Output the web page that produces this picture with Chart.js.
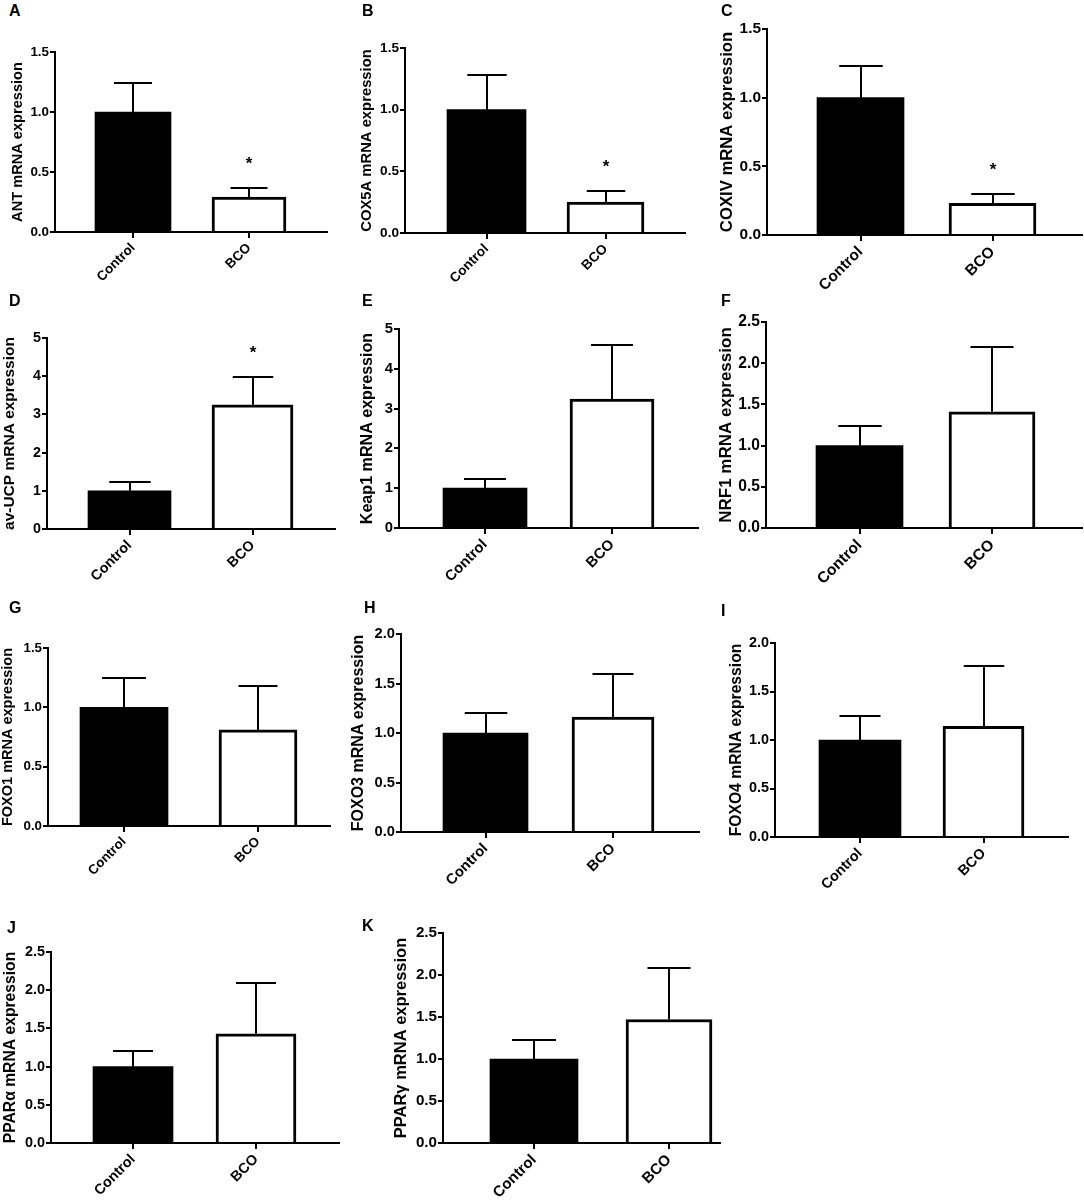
<!DOCTYPE html>
<html><head><meta charset="utf-8">
<script src="https://cdn.jsdelivr.net/npm/chart.js@4.4.1/dist/chart.umd.min.js"></script>
<style>
html,body{margin:0;padding:0;background:#fff;}
body{width:1084px;height:1201px;position:relative;overflow:hidden;}
canvas{position:absolute;}
.lbl{position:absolute;font-family:"Liberation Sans",Arial,sans-serif;font-weight:bold;font-size:16px;line-height:16px;color:#000;}
</style></head><body>
<script>
// ---- data ----
const groups = ['Control', 'BCO'];
const panelLetters = ['A','B','C','D','E','F','G','H','I','J','K'];
const genes = ['ANT','COX5A','COXIV','av-UCP','Keap1','NRF1','FOXO1','FOXO3','FOXO4','PPARα','PPARγ'];
const controlMean = [1.0, 1.0, 1.0, 1.0, 1.0, 1.0, 1.0, 1.0, 1.0, 1.0, 1.0];
const controlSEM  = [0.24, 0.28, 0.23, 0.23, 0.24, 0.24, 0.25, 0.20, 0.25, 0.21, 0.23];
const bcoMean     = [0.29, 0.25, 0.23, 3.25, 3.24, 1.41, 0.81, 1.16, 1.14, 1.43, 1.47];
const bcoSEM      = [0.08, 0.09, 0.07, 0.73, 1.36, 0.79, 0.37, 0.44, 0.62, 0.67, 0.61];
const significant = [true, true, true, true, false, false, false, false, false, false, false];
const yMax  = [1.5, 1.5, 1.5, 5, 5, 2.5, 1.5, 2.0, 2.0, 2.5, 2.5];
const yStep = [0.5, 0.5, 0.5, 1, 1, 0.5, 0.5, 0.5, 0.5, 0.5, 0.5];

// ---- layout (pixel geometry of each panel) ----
const layout = [
 {axisX:55,  topY:52,    zeroY:232,    xEnd:327,  c1:133,   c2:249,   w1:76, w2:74, titleX:17.5,titleSize:14.6, lx:10,  ly:5},
 {axisX:405, topY:48.3,  zeroY:233.3,  xEnd:685,  c1:486.5, c2:605.5, w1:79, w2:77, titleX:367, titleSize:14.8, lx:363, ly:5},
 {axisX:767, topY:29.3,  zeroY:235.3,  xEnd:1082, c1:860.5, c2:992.5, w1:87, w2:87, titleX:727, titleSize:16.7, lx:722, ly:5},
 {axisX:47,  topY:338.3, zeroY:529.3,  xEnd:335,  c1:129.5, c2:252.5, w1:83, w2:81, titleX:10,  titleSize:15.5, lx:10,  ly:295},
 {axisX:399, topY:329.3, zeroY:527.7,  xEnd:698,  c1:485,   c2:612,   w1:84, w2:84, titleX:368, titleSize:16.1, lx:363, ly:295},
 {axisX:766, topY:321.7, zeroY:527.7,  xEnd:1082, c1:859.5, c2:992,   w1:87, w2:86, titleX:726, titleSize:17.0, lx:722, ly:295},
 {axisX:48,  topY:648,   zeroY:825.7,  xEnd:330,  c1:124,   c2:258,   w1:88, w2:78, titleX:8,   titleSize:14.5, lx:10,  ly:602},
 {axisX:401, topY:634,   zeroY:831.7,  xEnd:699,  c1:485.5, c2:613,   w1:85, w2:82, titleX:359, titleSize:16.0, lx:365, ly:602},
 {axisX:775, topY:643.3, zeroY:837.3,  xEnd:1068, c1:860,   c2:983.5, w1:82, w2:81, titleX:737, titleSize:15.7, lx:722, ly:605},
 {axisX:51,  topY:951.7, zeroY:1143.3, xEnd:339,  c1:133,   c2:256,   w1:80, w2:80, titleX:11,  titleSize:15.7, lx:8,   ly:922},
 {axisX:443, topY:933.3, zeroY:1142.7, xEnd:720,  c1:534,   c2:669,   w1:88, w2:86, titleX:401, titleSize:16.5, lx:363, ly:920}
];

const FONT = '"Liberation Sans", Arial, sans-serif';
Chart.defaults.font.family = FONT;
Chart.defaults.color = '#000';

const errorBarPlugin = {
  id: 'errorBars',
  afterDatasetsDraw(chart) {
    const {ctx, scales: {x, y}} = chart;
    ctx.save();
    ctx.strokeStyle = '#000';
    ctx.fillStyle = '#000';
    ctx.lineWidth = 2;
    ctx.font = 'bold 17px ' + FONT;
    ctx.textAlign = 'center';
    ctx.textBaseline = 'alphabetic';
    chart.data.datasets.forEach((ds) => {
      ds.data.forEach((pt, i) => {
        const px = Math.round(x.getPixelForValue(pt.x));
        const yBase = y.getPixelForValue(pt.y);
        const yTop = Math.round(y.getPixelForValue(pt.y + ds.sem[i]));
        const cap = ds.barThickness / 2;
        ctx.beginPath();
        ctx.moveTo(px, yBase);
        ctx.lineTo(px, yTop);
        ctx.moveTo(px - cap / 2, yTop);
        ctx.lineTo(px + cap / 2, yTop);
        ctx.stroke();
        if (ds.sig[i]) {
          ctx.fillText('*', px, yTop - 29 + 10);
        }
      });
    });
    ctx.restore();
  }
};

layout.forEach((L, i) => {
  const cLeft = Math.round(L.titleX - 12);
  const cTop = Math.round(L.topY) - 30;
  const cRight = Math.round(L.xEnd) + 4;
  const cBottom = Math.round(L.zeroY) + 70;
  const W = cRight - cLeft, H = cBottom - cTop;
  const cv = document.createElement('canvas');
  cv.width = W; cv.height = H;
  cv.style.left = cLeft + 'px'; cv.style.top = cTop + 'px';
  cv.style.width = W + 'px'; cv.style.height = H + 'px';
  document.body.appendChild(cv);

  const lbl = document.createElement('div');
  lbl.className = 'lbl';
  lbl.textContent = panelLetters[i];
  lbl.style.left = (L.lx - 1) + 'px';
  lbl.style.top = (L.ly - 2) + 'px';
  document.body.appendChild(lbl);

  const unit = L.c2 - L.c1;
  const xMin = -(L.c1 - L.axisX) / unit;
  const xMax = 1 + (L.xEnd - L.c2) / unit;
  const tickSize = Math.round(L.titleSize * 0.92 * 10) / 10;
  const titleSize = L.titleSize;
  const step = yStep[i];

  new Chart(cv, {
    type: 'bar',
    data: {
      datasets: [
        { label: groups[0], data: [{x: 0, y: controlMean[i]}], backgroundColor: '#000', borderColor: '#000',
          borderWidth: 0, barThickness: L.w1, grouped: false, sem: [controlSEM[i]], sig: [false] },
        { label: groups[1], data: [{x: 1, y: bcoMean[i]}], backgroundColor: '#fff', borderColor: '#000',
          borderWidth: 3, borderSkipped: 'start', barThickness: L.w2, grouped: false, sem: [bcoSEM[i]], sig: [significant[i]] }
      ]
    },
    options: {
      responsive: false,
      animation: false,
      devicePixelRatio: 1,
      layout: { padding: { top: Math.round(L.topY) - cTop, right: cRight - Math.round(L.xEnd), left: 0, bottom: 0 } },
      plugins: { legend: { display: false }, tooltip: { enabled: false } },
      scales: {
        x: {
          type: 'linear', offset: false, min: xMin, max: xMax,
          afterBuildTicks: (s) => { s.ticks = groups.map((g, k) => ({ value: k })); },
          ticks: { color: '#000', font: { size: tickSize, weight: 'bold' }, minRotation: 45, maxRotation: 45,
                   autoSkip: false, padding: 2, callback: (v) => groups[v] },
          grid: { offset: false, drawOnChartArea: false, drawTicks: true, tickLength: 6, color: '#000', lineWidth: 2 },
          border: { display: true, color: '#000', width: 2 },
          afterFit: (s) => { s.height = cBottom - Math.round(L.zeroY); }
        },
        y: {
          min: 0, max: yMax[i],
          ticks: { stepSize: step, color: '#000', font: { size: tickSize, weight: 'bold' }, padding: 1,
                   callback: (v) => step < 1 ? Number(v).toFixed(1) : String(v) },
          grid: { drawOnChartArea: false, drawTicks: true, tickLength: 5, color: '#000', lineWidth: 2 },
          border: { display: true, color: '#000', width: 2 },
          title: { display: true, text: genes[i] + ' mRNA expression', color: '#000',
                   font: { size: titleSize, weight: 'bold' },
                   padding: { top: Math.max(0, (L.titleX - cLeft) - titleSize * 0.6), bottom: 0 } },
          afterFit: (s) => { s.width = Math.round(L.axisX) - cLeft; }
        }
      }
    },
    plugins: [errorBarPlugin]
  });
});
</script>
</body></html>
